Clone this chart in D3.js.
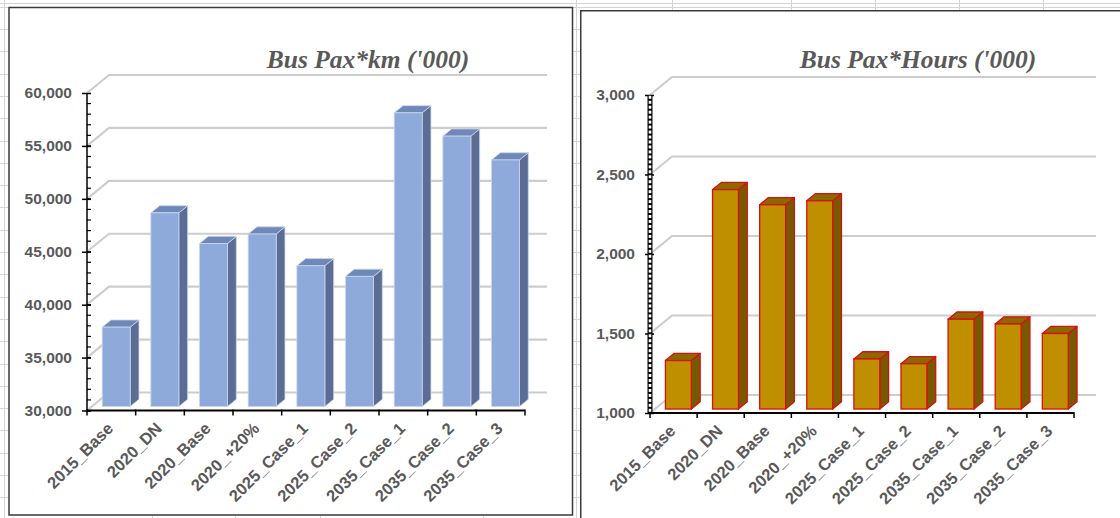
<!DOCTYPE html>
<html>
<head>
<meta charset="utf-8">
<script src="https://cdn.jsdelivr.net/npm/d3@7"></script>
<style>
  body { margin: 0; background: #fff; }
  svg { display: block; }
</style>
</head>
<body>
<svg id="chart" width="1120" height="518"></svg>
<script>
// ---- data ----
const categories = ["2015_Base", "2020_DN", "2020_Base", "2020_+20%", "2025_Case_1",
                    "2025_Case_2", "2035_Case_1", "2035_Case_2", "2035_Case_3"];
const paxKm = [37500, 48300, 45400, 46300, 43300, 42300, 57750, 55550, 53300];
const paxHours = [1305, 2380, 2285, 2310, 1315, 1285, 1565, 1535, 1475];
const paxKmTicks = [30000, 35000, 40000, 45000, 50000, 55000, 60000];
const paxHoursTicks = [1000, 1500, 2000, 2500, 3000];
const paxKmTitle = "Bus Pax*km ('000)";
const paxHoursTitle = "Bus Pax*Hours ('000)";

const svg = d3.select("#chart");
const GRID = "#d4d4d4";
const TEXT = "#595959";

// ---- worksheet cell lines behind the chart objects ----
const sheet = svg.append("g").attr("stroke", GRID).attr("stroke-width", 1).attr("fill", "none");
sheet.append("line").attr("x1", 4.5).attr("x2", 4.5).attr("y1", 0).attr("y2", 518);
sheet.append("line").attr("x1", 576.5).attr("x2", 576.5).attr("y1", 0).attr("y2", 518);
sheet.append("line").attr("x1", 0).attr("x2", 1120).attr("y1", 3.5).attr("y2", 3.5);
sheet.append("line").attr("x1", 573).attr("x2", 1120).attr("y1", 7.5).attr("y2", 7.5);
d3.range(6.7, 518, 22.3).forEach(r => {
  sheet.append("line").attr("x1", 0).attr("x2", 8).attr("y1", Math.round(r) + 0.5).attr("y2", Math.round(r) + 0.5);
  sheet.append("line").attr("x1", 573).attr("x2", 580).attr("y1", Math.round(r) + 0.5).attr("y2", Math.round(r) + 0.5);
});
[672, 791, 875, 959, 1043].forEach(c => {
  sheet.append("line").attr("x1", c + 0.5).attr("x2", c + 0.5).attr("y1", 0).attr("y2", 10);
});
[152, 235, 320, 483].forEach(c => {
  sheet.append("line").attr("x1", c + 0.5).attr("x2", c + 0.5).attr("y1", 516).attr("y2", 518);
});

// ---- chart frames ----
svg.append("rect").attr("x", 9).attr("y", 7.5).attr("width", 563.5).attr("height", 507.5)
  .attr("fill", "#fff").attr("stroke", "#3a3a3a").attr("stroke-width", 1.5);
svg.append("rect").attr("x", 580.75).attr("y", 10.75).attr("width", 560).attr("height", 540)
  .attr("fill", "#fff").attr("stroke", "#3a3a3a").attr("stroke-width", 1.5);

// depth of the 3-D floor (back wall offset)
const DX = 22, DY = 18;
// bars sit between 22% and 62% of the depth
const F0 = 0.22, FD = 0.40;

function drawPanel(opt) {
  const g = svg.append("g");
  const x = d3.scaleBand().domain(categories).range([opt.x0, opt.x1]);
  const y = d3.scaleLinear().domain(opt.domain).range([opt.yBottom, opt.yTop]);
  const bw = x.bandwidth();
  const y0 = y(opt.domain[0]);

  // back-wall gridlines with the short diagonal from the axis
  g.selectAll("path.grid").data(opt.ticks).join("path")
    .attr("class", "grid")
    .attr("fill", "none")
    .attr("stroke", "#cdcdcd")
    .attr("stroke-width", 2.2)
    .attr("d", t => `M${opt.x0},${y(t)} L${opt.x0 + DX},${y(t) - DY} L${opt.x1 + DX},${y(t) - DY}`);

  // 3-D columns
  const w = bw * opt.barFrac;
  const ddx = DX * FD, ddy = DY * FD;
  const bars = g.selectAll("g.bar").data(opt.values).join("g").attr("class", "bar");
  bars.each(function (v, i) {
    const b = d3.select(this);
    const cx = x(categories[i]) + bw / 2 + DX * F0;
    const fx = cx - w / 2;
    const fb = y0 - DY * F0;
    const ft = y(v) - DY * F0;
    const stroke = opt.stroke || "none";
    const sw = opt.strokeWidth || 0;
    b.append("polygon")
      .attr("points", [[fx + w, ft], [fx + w + ddx, ft - ddy], [fx + w + ddx, fb - ddy], [fx + w, fb]].join(" "))
      .attr("fill", opt.side).attr("stroke", stroke).attr("stroke-width", sw).attr("stroke-linejoin", "round");
    b.append("polygon")
      .attr("points", [[fx, ft], [fx + ddx, ft - ddy], [fx + w + ddx, ft - ddy], [fx + w, ft]].join(" "))
      .attr("fill", opt.top).attr("stroke", stroke).attr("stroke-width", sw).attr("stroke-linejoin", "round");
    b.append("rect")
      .attr("x", fx).attr("y", ft).attr("width", w).attr("height", fb - ft)
      .attr("fill", opt.front).attr("stroke", stroke).attr("stroke-width", sw);
  });

  // value axis
  const yAxis = d3.axisLeft(y).tickValues(opt.ticks).tickFormat(d3.format(","))
    .tickSize(9).tickPadding(10);
  const ya = g.append("g").attr("transform", `translate(${opt.x0 + 4},0)`).call(yAxis);
  ya.select(".domain").remove();
  ya.selectAll(".tick line").attr("stroke", "#000").attr("stroke-width", 1.5);
  ya.selectAll(".tick text")
    .attr("fill", TEXT).attr("font-family", "'Liberation Sans', Arial, sans-serif")
    .attr("font-weight", "bold").attr("font-size", 15.5);

  if (opt.dashedAxis) {
    // heavy axis drawn with dense cross minor ticks
    const minor = d3.range(opt.domain[0], opt.domain[1], opt.minorStep);
    g.append("rect").attr("x", opt.x0 - 2.5).attr("y", y(opt.domain[1]))
      .attr("width", 5).attr("height", y0 - y(opt.domain[1])).attr("fill", "#000");
    g.selectAll("rect.gap").data(minor).join("rect").attr("class", "gap")
      .attr("x", opt.x0 - 1.3).attr("y", d => y(d) - 4.2).attr("width", 2.6).attr("height", 3)
      .attr("fill", "#fff");
  } else {
    g.append("line").attr("x1", opt.x0).attr("x2", opt.x0)
      .attr("y1", y(opt.domain[1])).attr("y2", y0).attr("stroke", "#000").attr("stroke-width", 1.5);
    const minor = d3.range(opt.domain[0], opt.domain[1], opt.minorStep);
    g.selectAll("line.minor").data(minor).join("line").attr("class", "minor")
      .attr("x1", opt.x0).attr("x2", opt.x0 + 4)
      .attr("y1", d => y(d)).attr("y2", d => y(d))
      .attr("stroke", "#000").attr("stroke-width", 1.2);
  }

  // category axis
  g.append("line").attr("x1", opt.x0).attr("x2", opt.x1).attr("y1", y0).attr("y2", y0)
    .attr("stroke", "#000").attr("stroke-width", 2);
  const edges = categories.map(c => x(c)).concat([opt.x1]);
  g.selectAll("line.xt").data(edges).join("line").attr("class", "xt")
    .attr("x1", d => d).attr("x2", d => d).attr("y1", y0 - 1).attr("y2", y0 + 5)
    .attr("stroke", "#000").attr("stroke-width", 1.5);
  g.selectAll("text.xl").data(categories).join("text").attr("class", "xl")
    .attr("transform", c => `translate(${x(c) + bw / 2 + 3},${y0 + 19}) rotate(-45)`)
    .attr("text-anchor", "end")
    .attr("fill", TEXT).attr("font-family", "'Liberation Sans', Arial, sans-serif")
    .attr("font-weight", "bold").attr("font-size", 16.5)
    .text(c => c);

  // title
  g.append("text").attr("x", opt.titleX).attr("y", 68).attr("text-anchor", "middle")
    .attr("fill", TEXT).attr("font-family", "'Liberation Serif', 'Times New Roman', serif")
    .attr("font-weight", "bold").attr("font-style", "italic").attr("font-size", 25.5)
    .text(opt.title);
}

drawPanel({
  values: paxKm, ticks: paxKmTicks, domain: [30000, 60000], minorStep: 1000,
  x0: 87, x1: 525, yBottom: 410.5, yTop: 93,
  barFrac: 0.575,
  front: "#8eaadb", top: "#6f88b8", side: "#5b6d94",
  stroke: "#c9d6ee", strokeWidth: 0.8,
  title: paxKmTitle, titleX: 368
});

drawPanel({
  values: paxHours, ticks: paxHoursTicks, domain: [1000, 3000], minorStep: 500 / 16,
  x0: 650, x1: 1074, yBottom: 413, yTop: 95,
  barFrac: 0.55, dashedAxis: true,
  front: "#bf8f00", top: "#8a6a00", side: "#765a00",
  stroke: "#d81010", strokeWidth: 1.3,
  title: paxHoursTitle, titleX: 918
});
</script>
</body>
</html>
